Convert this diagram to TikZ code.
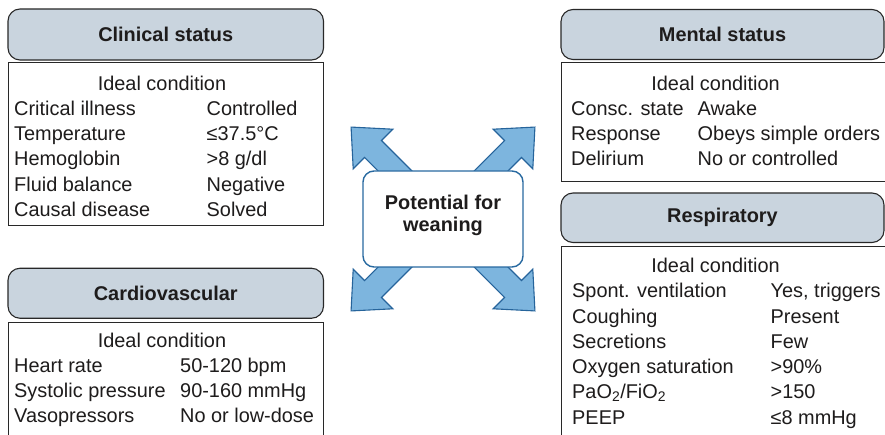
\documentclass[tikz,border=0pt]{standalone}
\usepackage{fontspec}
\setmainfont{Liberation Sans}
\definecolor{hdrfill}{RGB}{201,212,222}
\definecolor{hdrline}{RGB}{40,40,40}
\definecolor{txt}{RGB}{30,28,28}
\definecolor{arrfill}{RGB}{125,181,222}
\definecolor{arrline}{RGB}{38,100,155}
\definecolor{ctrline}{RGB}{40,105,160}
\newcommand\rowfnt{\fontsize{19.9}{23}\selectfont}
\begin{document}
\begin{tikzpicture}[x=1pt,y=-1pt,
  hdr/.style={draw=hdrline, line width=1.1pt, fill=hdrfill, rounded corners=12pt,
    inner sep=0pt, font=\rowfnt\bfseries, text=txt},
  bodybox/.style={draw=hdrline, line width=1pt, fill=white, inner sep=0pt},
  lab/.style={anchor=base west, inner sep=0pt, font=\rowfnt, text=txt},
  ideal/.style={anchor=base, inner sep=0pt, font=\rowfnt, text=txt},
  blockarrow/.style={draw=arrline, line width=1.1pt, fill=arrfill, line join=miter},
  centerbox/.style={draw=ctrline, line width=1.4pt, fill=white, rounded corners=11pt,
    minimum width=160pt, minimum height=96pt, inner sep=0pt},
  centertext/.style={inner sep=0pt, align=center, font=\rowfnt\bfseries, text=txt}
]
\useasboundingbox (0,0) rectangle (885,435);
\clip (0,0) rectangle (885,435);

% ---------- Clinical status ----------
\node[hdr, minimum width=315.5pt, minimum height=51pt] (clinH) at (165.75,34.5) {Clinical status};
\node[bodybox, minimum width=315.5pt, minimum height=163pt] (clinB) at (165.75,144.5) {};
\node[ideal] (clin0) at (162,90.5) {Ideal condition};
\node[lab] (clin1l) at (14,115.5) {Critical illness};
\node[lab] (clin1r) at (206.5,115.5) {Controlled};
\node[lab] (clin2l) at (14,140.7) {Temperature};
\node[lab] (clin2r) at (206.5,140.7) {≤37.5°C};
\node[lab] (clin3l) at (14,165.9) {Hemoglobin};
\node[lab] (clin3r) at (206.5,165.9) {>8 g/dl};
\node[lab] (clin4l) at (14,191.1) {Fluid balance};
\node[lab] (clin4r) at (206.5,191.1) {Negative};
\node[lab] (clin5l) at (14,216.3) {Causal disease};
\node[lab] (clin5r) at (206.5,216.3) {Solved};

% ---------- Cardiovascular ----------
\node[hdr, minimum width=315.5pt, minimum height=50pt] (cardH) at (165.75,293.25) {Cardiovascular};
\node[bodybox, minimum width=315.5pt, minimum height=130pt] (cardB) at (165.75,387) {};
\node[ideal] (card0) at (162,347) {Ideal condition};
\node[lab] (card1l) at (14,372) {Heart rate};
\node[lab] (card1r) at (180,372) {50-120 bpm};
\node[lab] (card2l) at (14,397) {Systolic pressure};
\node[lab] (card2r) at (180,397) {90-160 mmHg};
\node[lab] (card3l) at (14,422) {Vasopressors};
\node[lab] (card3r) at (180,422) {No or low-dose};

% ---------- Mental status ----------
\node[hdr, minimum width=323pt, minimum height=50pt] (mentH) at (722.5,34.5) {Mental status};
\node[bodybox, minimum width=339pt, minimum height=119pt] (mentB) at (730.5,122.5) {};
\node[ideal] (ment0) at (715.5,90.5) {Ideal condition};
\node[lab] (ment1l) at (571,115.3) {Consc. state};
\node[lab] (ment1r) at (697.5,115.3) {Awake};
\node[lab] (ment2l) at (571,140.5) {Response};
\node[lab] (ment2r) at (697.5,140.5) {Obeys simple orders};
\node[lab] (ment3l) at (571,165.7) {Delirium};
\node[lab] (ment3r) at (697.5,165.7) {No or controlled};

% ---------- Respiratory ----------
\node[hdr, minimum width=323pt, minimum height=49.5pt] (respH) at (722.5,217.75) {Respiratory};
\node[bodybox, minimum width=339pt, minimum height=203pt] (respB) at (730.5,348.5) {};
\node[ideal] (resp0) at (715.5,272.5) {Ideal condition};
\node[lab] (resp1l) at (572,298) {Spont. ventilation};
\node[lab] (resp1r) at (770.5,298) {Yes, triggers};
\node[lab] (resp2l) at (572,323.2) {Coughing};
\node[lab] (resp2r) at (770.5,323.2) {Present};
\node[lab] (resp3l) at (572,348.4) {Secretions};
\node[lab] (resp3r) at (770.5,348.4) {Few};
\node[lab] (resp4l) at (572,373.6) {Oxygen saturation};
\node[lab] (resp4r) at (770.5,373.6) {>90\%};
\node[lab] (resp5l) at (572,398.8) {PaO\textsubscript{2}/FiO\textsubscript{2}};
\node[lab] (resp5r) at (770.5,398.8) {>150};
\node[lab] (resp6l) at (572,424) {PEEP};
\node[lab] (resp6r) at (770.5,424) {≤8 mmHg};

% ---------- Centre with block arrows ----------
\coordinate (ctr) at (443,219);
\foreach \ang in {45,135,225,315} {
  \begin{scope}[shift={(ctr)}, rotate=\ang]
    \draw[blockarrow] (0,12) -- (99,12) -- (99,28) -- (130,0) -- (99,-28) -- (99,-12) -- (0,-12) -- cycle;
  \end{scope}
}
\node[centerbox] (pot) at (ctr) {};
\node[centertext] (potT) at (443,215) {Potential for\\[-1pt]weaning};
\end{tikzpicture}
\end{document}
